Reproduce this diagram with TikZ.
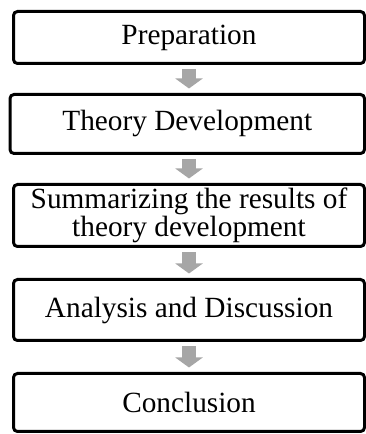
\documentclass[tikz,border=0pt]{standalone}
\usepackage{fontspec}
\setmainfont{Liberation Serif}
\usetikzlibrary{arrows.meta}

\definecolor{arrowgray}{RGB}{166,166,166}

\tikzset{
    stepbox/.style={draw=black, rectangle, rounded corners=4pt, line width=3pt, inner sep=0pt, align=center,
        font=\fontsize{29.3}{28.5}\selectfont},
    flowarrow/.style={arrowgray, line width=14pt, shorten <=4.5pt, shorten >=4.5pt,
        -{Triangle[width=27pt,length=10pt]}}
}

\begin{document}
\begin{tikzpicture}[x=1pt,y=1pt]
        % Fix the size of the picture
        \useasboundingbox (0,0) rectangle (365,434);

        % Define the boxes with the steps
        \node[stepbox, minimum width=351pt, minimum height=52pt] (prep) at (189,396.5) {Preparation};
        \node[stepbox, minimum width=354.5pt, minimum height=59pt] (theory) at (187.25,310) {Theory Development};
        \node[stepbox, minimum width=351pt, minimum height=62pt] (summary) at (189,218.5) {Summarizing the results of\\theory development};
        \node[stepbox, minimum width=351pt, minimum height=61pt] (analysis) at (189,124) {Analysis and Discussion};
        \node[stepbox, minimum width=351pt, minimum height=58pt] (concl) at (189,31.5) {Conclusion};

        % Draw the arrows between the boxes
        \draw[flowarrow] (prep.south) -- (prep.south |- theory.north);
        \draw[flowarrow] (prep.south |- theory.south) -- (summary.north);
        \draw[flowarrow] (summary.south) -- (analysis.north);
        \draw[flowarrow] (analysis.south) -- (concl.north);
    \end{tikzpicture}
\end{document}
